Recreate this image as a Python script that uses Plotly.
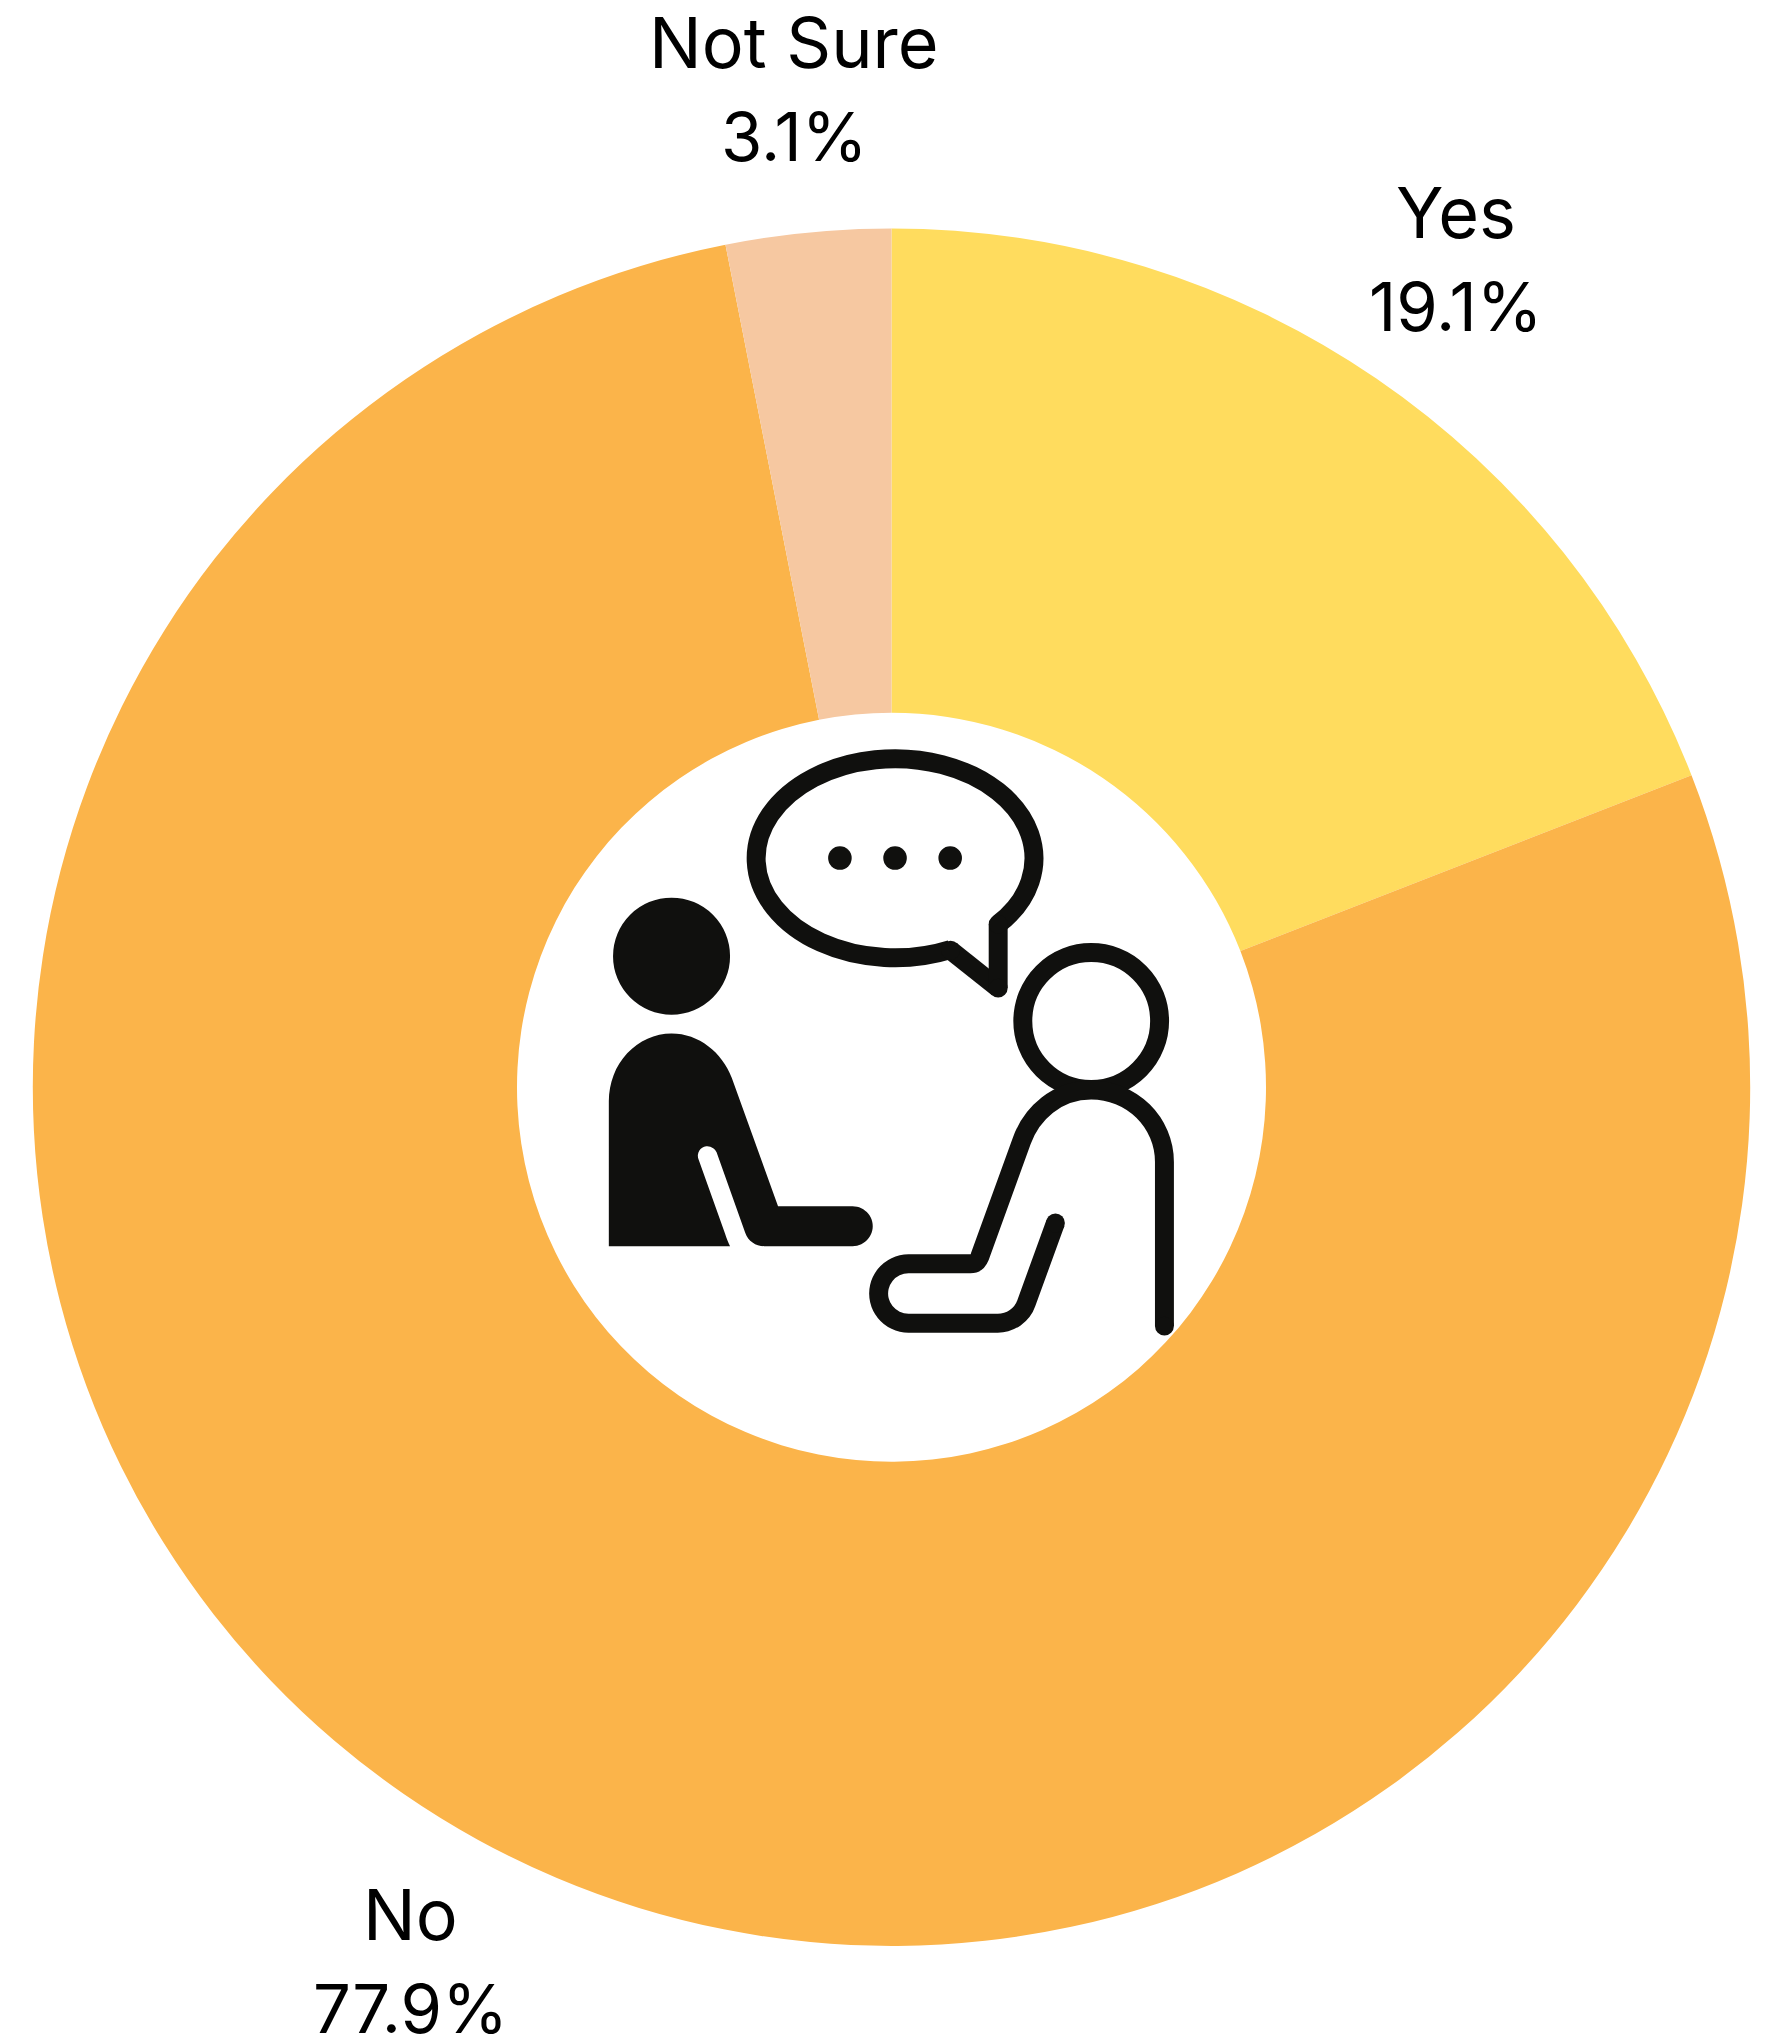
import math
import plotly.graph_objects as go

# Survey answers, clockwise from twelve o'clock
labels = ["Yes", "No", "Not Sure"]
values = [19.1, 77.9, 3.1]
colors = ["#FFDC5E", "#FBB44A", "#F6C8A1"]

WIDTH, HEIGHT = 1775, 2038
CX, CY, RADIUS, HOLE_RADIUS = 891.5, 1087.2, 858.7, 374.5
LABEL_RADIUS = 1000.0
LINE_OFFSET = 47.0
FONT_FAMILY = "Inter"
NAME_SIZE = 70
VALUE_SIZE = 67
TEXT_NUDGE = -2.0

INK = "#10100E"
ICON_X, ICON_Y, ICON_SCALE = 560.0, 720.0, 660.0 / 1568.0
STROKE = 45.0


def px(u, v):
    """Icon-box units to paper coordinates."""
    return (ICON_X + u * ICON_SCALE) / WIDTH, 1 - (ICON_Y + v * ICON_SCALE) / HEIGHT


def path(*commands):
    """Each command is a letter followed by (u, v) pairs."""
    parts = []
    for cmd in commands:
        parts.append(cmd[0] + " " + " ".join("{:.6f},{:.6f}".format(*px(*p)) for p in cmd[1:]))
    return " ".join(parts)


def arc(cu, cv, ru, rv, a0, a1):
    """Cubic segments for an elliptical arc, angles in degrees, v pointing down."""
    steps = max(1, int(abs(a1 - a0) // 30) + 1)
    delta = math.radians(a1 - a0) / steps
    k = 4 / 3 * math.tan(delta / 4)
    out = []
    t = math.radians(a0)
    for _ in range(steps):
        c0, s0 = math.cos(t), math.sin(t)
        t += delta
        c1, s1 = math.cos(t), math.sin(t)
        out.append(("C",
                    (cu + ru * (c0 - k * s0), cv + rv * (s0 + k * c0)),
                    (cu + ru * (c1 + k * s1), cv + rv * (s1 - k * c1)),
                    (cu + ru * c1, cv + rv * s1)))
    return out


def oval(u, v, r):
    x0, y0 = px(u - r, v - r)
    x1, y1 = px(u + r, v + r)
    return dict(x0=x0, x1=x1, y0=y1, y1=y0)


def filled(d):
    return dict(type="path", xref="paper", yref="paper", path=d, fillcolor=INK,
                line=dict(width=0), layer="above")


def stroked(d):
    return dict(type="path", xref="paper", yref="paper", path=d,
                fillcolor="rgba(0,0,0,0)",
                line=dict(color=INK, width=STROKE * ICON_SCALE), layer="above")


def disc(u, v, r=STROKE / 2):
    return dict(type="circle", xref="paper", yref="paper", fillcolor=INK,
                line=dict(width=0), layer="above", **oval(u, v, r))


def ring(u, v, r):
    return dict(type="circle", xref="paper", yref="paper",
                fillcolor="rgba(0,0,0,0)",
                line=dict(color=INK, width=STROKE * ICON_SCALE),
                layer="above", **oval(u, v, r))


shapes = [
    # Seated figure on the left: solid head and body
    disc(265, 561, 139),
    filled(path(
        ("M", (116, 1250)),
        ("L", (116, 905)),
        *arc(265, 905, 149, 160, 180, 270),
        ("C", (330, 745), (385, 790), (408, 850)),
        ("L", (518, 1155)),
        ("L", (695, 1155)),
        *arc(695, 1202.5, 48, 47.5, -90, 90),
        ("L", (485, 1250)),
        ("C", (465, 1250), (447, 1238), (440, 1218)),
        ("L", (372, 1027)),
        *arc(350, 1035, 22.5, 22.5, -20, -200),
        ("L", (392, 1220)),
        ("C", (396, 1232), (400, 1242), (404, 1250)),
        ("Z",),
    )),
    # Speech bubble and its three dots
    stroked(path(
        ("M", (1041, 485)),
        *arc(796, 328.5, 330, 236.5, 41.5, -293.6),
    )),
    stroked(path(("M", (928, 547)), ("L", (1041, 637)))),
    stroked(path(("M", (1041, 637)), ("L", (1041, 485)))),
    disc(928, 547), disc(1041, 637), disc(1041, 485),
    disc(665, 328, 28),
    disc(796, 328, 28),
    disc(927, 328, 28),
    # Outlined figure on the right
    ring(1262, 715, 162.5),
    stroked(path(
        ("M", (1436, 1440)),
        ("L", (1436, 1050)),
        *arc(1262, 1050, 174, 171, 0, -90),
        ("C", (1180, 879), (1120, 935), (1097, 1000)),
        ("L", (997, 1276)),
        ("C", (993, 1286), (986, 1292), (975, 1292)),
        ("L", (828, 1292)),
        *arc(828, 1362.5, 71, 70.5, -90, -270),
        ("L", (1040, 1433)),
        ("C", (1070, 1433), (1098, 1414), (1108, 1385)),
        ("L", (1177, 1195)),
    )),
    disc(1436, 1440), disc(1177, 1195),
]

# Each label sits on a circle around the ring, at the middle angle of its slice
total = sum(values)
annotations = []
running = 0.0
for name, value in zip(labels, values):
    mid = (running + value / 2) / total * 2 * math.pi
    running += value
    ax = CX + LABEL_RADIUS * math.sin(mid)
    ay = CY - LABEL_RADIUS * math.cos(mid)
    for text, offset, size in ((name, -LINE_OFFSET, NAME_SIZE), (f"{value}%", LINE_OFFSET, VALUE_SIZE)):
        annotations.append(dict(
            text=text, xref="paper", yref="paper",
            x=ax / WIDTH, y=1 - (ay + offset + TEXT_NUDGE) / HEIGHT,
            xanchor="center", yanchor="middle", showarrow=False,
            font=dict(family=FONT_FAMILY, size=size, color="#000000"),
        ))

fig = go.Figure(go.Pie(
    labels=labels, values=values, hole=HOLE_RADIUS / RADIUS,
    sort=False, direction="clockwise", rotation=0,
    marker=dict(colors=colors, line=dict(width=0)),
    textinfo="none", hoverinfo="label+percent", showlegend=False,
    domain=dict(
        x=[(CX - RADIUS) / WIDTH, (CX + RADIUS) / WIDTH],
        y=[1 - (CY + RADIUS) / HEIGHT, 1 - (CY - RADIUS) / HEIGHT],
    ),
))
fig.update_layout(
    width=WIDTH, height=HEIGHT, margin=dict(l=0, r=0, t=0, b=0),
    paper_bgcolor="#FFFFFF", plot_bgcolor="#FFFFFF",
    shapes=shapes, annotations=annotations,
)
fig.write_html("out.html", config=dict(displayModeBar=False))
